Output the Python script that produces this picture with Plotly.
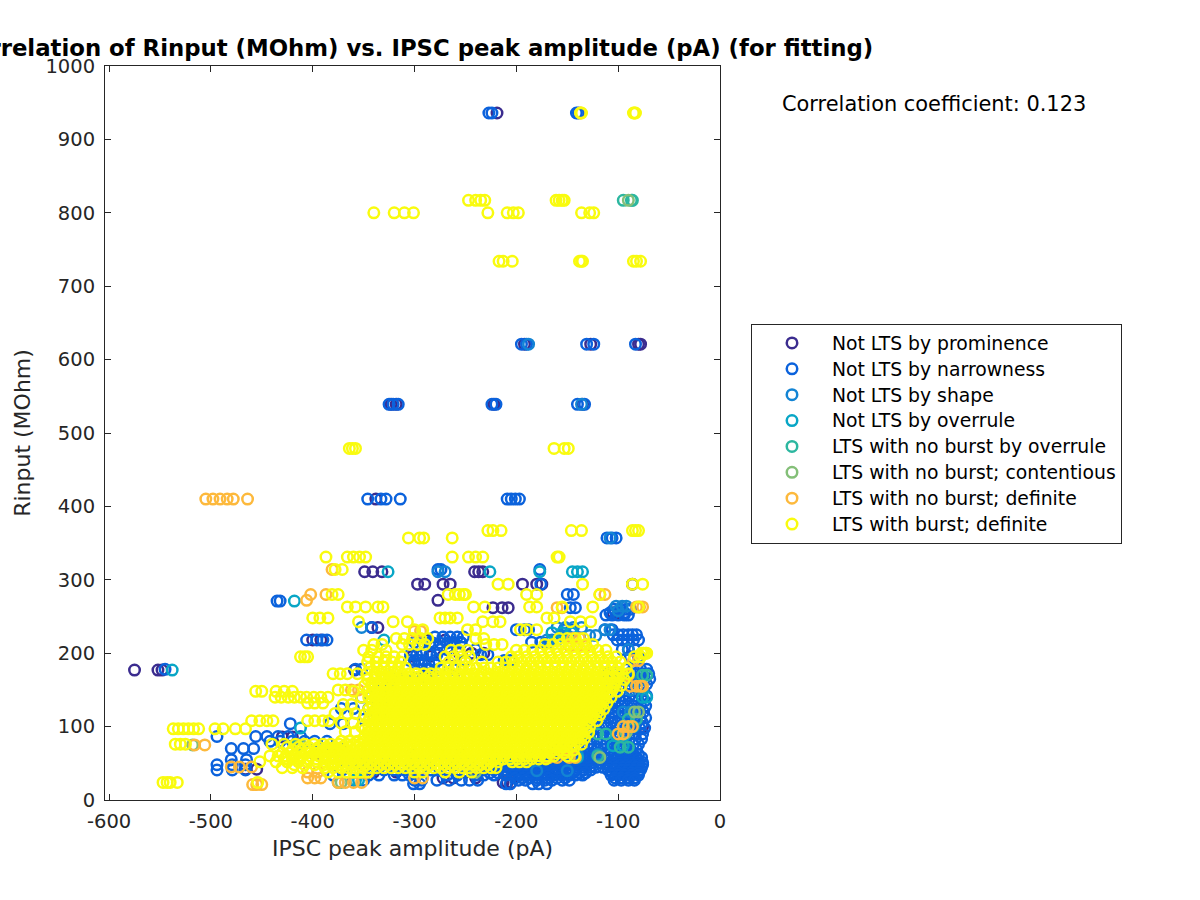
import plotly.graph_objects as go

labels = ["Not LTS by prominence", "Not LTS by narrowness", "Not LTS by shape", "Not LTS by overrule",
          "LTS with no burst by overrule", "LTS with no burst; contentious", "LTS with no burst; definite",
          "LTS with burst; definite"]
colors = ["#3b2c8f", "#0b62dc", "#1384d4", "#08a6c6", "#2cb7a0", "#84bf78", "#fdb93c", "#f9fb0e"]

prominence_rows = {
 936: [-219], 621: [-192, -127, -80, -78], 539: [-323, -318, -222, -135], 410: [-338],
 311: [-349, -341, -332, -241, -237, -233], 294: [-297, -290, -272, -265, -194, -180, -175, -86],
 272: [-277], 262: [-223, -214, -208], 255: [-105, -100], 235: [-336, -342], 218: [-400, -392, -288, -270],
 196: [-302, -284, -272, -262], 177: [-575, -552, -548, -359], 124: [-300, -292], 86: [-430, -420],
 62: [-398], 42: [-466, -455], 38: [-340, -318, -250, -238], 30: [-272, -262, -240],
 24: [-213, -209, -205], 46: [-92, -85], 100: [-76, -84], 170: [-290, -262], 200: [-256, -244, -232],
}
narrowness_rows = {
 936: [-227, -224, -141, -139], 621: [-195, -190, -131, -124, -83], 539: [-325, -321, -316, -224, -220, -140, -133],
 410: [-346, -333, -328, -314, -209, -205, -201, -197], 357: [-111, -106, -102], 314: [-277, -274, -177],
 294: [-176], 280: [-150, -144], 271: [-435, -432], 262: [-147, -142], 255: [-108, -94],
 222: [-280, -272, -265, -258, -252], 214: [-282, -275, -268, -261, -254],
 225: [-105, -100, -95, -90, -86, -82], 218: [-406, -396, -390, -386, -101, -96, -91, -85, -80],
 235: [-342], 205: [-275, -268, -240, -96, -90, -84], 198: [-304, -298, -292, -285, -278, -235, -228],
 195: [-88, -80], 190: [-300, -290, -280, -250, -212, -206], 186: [-300, -293, -286, -280],
 178: [-358, -352, -545, -288, -276, -262, -92, -85, -78, -72],
 172: [-110, -104, -97, -90, -84, -76, -70], 165: [-112, -105, -99, -92, -86, -80, -74, -69],
 158: [-108, -102, -96, -90, -84, -78, -72], 150: [-110, -104, -98, -91, -85, -79, -73],
 142: [-108, -102, -95, -89, -83, -77, -72], 135: [-112, -105, -99, -93, -86, -80, -74],
 128: [-110, -103, -97, -91, -85, -78, -73], 120: [-113, -106, -100, -94, -87, -81, -75],
 112: [-116, -109, -103, -96, -90, -84, -78, -73], 105: [-122, -114, -107, -101, -94, -88, -82, -76],
 98: [-126, -119, -112, -105, -99, -92, -86, -79, -74], 90: [-128, -121, -115, -108, -102, -95, -89, -83, -76],
 83: [-135, -128, -121, -115, -108, -102, -96, -89, -83, -77], 76: [-130, -124, -117, -111, -104, -98, -92, -85, -80],
 69: [-160, -150, -140, -134, -127, -120, -113, -107, -100, -94, -88, -82],
 62: [-300, -275, -262, -250, -172, -165, -158, -152, -145, -138, -131, -124, -117, -110, -104, -97, -91, -85, -80],
 58: [-215, -208, -201, -194, -187, -181, -174, -168, -161, -155, -149, -142, -135, -128, -121, -114, -107, -100, -93, -87, -82, -77],
 55: [-480, -465, -352, -345, -330, -320, -268, -255, -180, -173, -166, -159, -152, -145, -138, -131, -124, -117, -111, -104, -98, -92, -86, -81],
 51: [-222, -216, -209, -203, -196, -190, -183, -177, -170, -164, -157, -151, -144, -138, -131, -125, -118, -112, -105, -99, -92, -86, -80, -76],
 48: [-494, -479, -466, -361, -352, -345, -332, -322, -300, -289, -270, -262, -249, -238, -226, -214, -208, -201, -194, -187, -180, -173, -166, -159, -152, -145, -138, -131, -111, -104, -98, -92, -86, -80, -76],
 44.5: [-228, -221, -215, -208, -201, -195, -188, -181, -175, -168, -161, -155, -148, -141, -135, -128, -122, -115, -108, -102, -95, -89, -82, -77],
 41: [-494, -479, -466, -371, -360, -350, -340, -330, -320, -310, -303, -296, -284, -275, -268, -257, -242, -232, -222, -212, -204, -197, -190, -183, -176, -169, -162, -155, -148, -141, -134, -127, -110, -103, -96, -90, -84, -78],
 37: [-226, -218, -211, -204, -198, -191, -184, -178, -171, -164, -158, -151, -145, -138, -132, -106, -100, -93, -87, -80],
 34: [-380, -345, -335, -320, -312, -305, -268, -258, -240, -232, -222, -210, -204, -197, -190, -183, -176, -169, -162, -155, -148, -142, -135, -107, -100, -94, -87, -80],
 30: [-201, -194, -187, -179, -169, -160, -152, -103, -97, -90, -84],
 27: [-360, -350, -300, -293, -278, -266, -254, -246, -238, -198, -191, -180, -172, -165, -155, -148, -104, -97, -90, -84],
 22: [-301, -295, -210, -206, -184, -178, -170],
 86.5: [-494, -456, -445, -434, -424, -412], 80: [-442, -432, -420, -408, -398, -386], 70: [-480, -468, -458, -380, -372],
 110: [-350, -340, -330], 104: [-422, -383, -370], 124.5: [-372, -360, -345, -334], 140: [-352, -344, -330],
 150: [-335, -325], 165.5: [-322, -316, -300, -292], 168: [-323, -290, -278], 190.5: [-305, -296],
 215: [-300, -292, -285, -262, -255, -185, -176, -168], 232: [-200, -192, -188, -113, -106, -153, -146],
 252: [-112, -106, -100, -94, -90], 260: [-104, -98, -92, -88],
}
shape_rows = {
 621: [-188], 539: [-136], 311: [-277, -270], 357: [-108], 264: [-102, -96, -92], 258: [-100],
 235: [-352, -160, -152, -144, -136], 232: [-113, -108], 224: [-155, -150, -128, -122], 218: [-170, -165, -160], 205: [-90], 165: [-96, -88],
 150: [-88, -76], 120: [-95, -88], 62: [-140, -120], 40: [-180, -150],
}
overrule_rows = {
 311: [-326, -226, -177, -145, -140, -135], 271: [-418], 218: [-330], 177: [-538], 100: [-95, -85],
 140: [-76, -72], 88: [-102, -94], 74: [-105, -95], 27: [-358, -355], 58: [-215, -205, -140], 98: [-412],
 228: [-165, -155, -146],
}
nb_overrule_rows = {
 817: [-95, -87, -86], 170: [-76, -72], 110: [-90, -82], 90: [-120, -112], 60: [-120, -148], 72: [-98, -90], 75: [-415],
}
nb_contentious_rows = {
 817: [-90], 120: [-84, -80], 92: [-92], 58: [-118], 38: [-240], 75: [-518, -412], 24: [-375, -372],
}
nb_definite_rows = {
 936: [-137], 410: [-505, -498, -491, -484, -478, -464], 314: [-381], 280: [-402, -387, -118, -113], 272: [-406],
 263: [-82, -79, -76], 262: [-160, -155], 230: [-300, -294], 220: [-145, -138], 190: [-85, -80], 170: [-90],
 155: [-88, -82, -78, -76], 150: [-362, -355], 125: [-310], 100: [-95, -90, -86], 90: [-100, -95], 75: [-516, -506],
 58: [-148, -142, -172, -168, -160], 45: [-480, -472, -460], 38: [-405, -395, -345], 30: [-405, -398, -392, -300, -292],
 24: [-375, -368, -360, -352], 21: [-459, -455, -450], 65: [-375, -365, -155, -150], 210: [-148, -140, -132],
}
burst_rows = {
 936: [-137, -136, -85, -84, -83], 817: [-247, -240, -235, -231, -161, -158, -155, -153],
 800: [-340, -320, -310, -301, -228, -209, -203, -198, -136, -128, -124],
 734: [-217, -213, -204, -138, -136, -135, -85, -82, -78], 479: [-364, -361, -358, -163, -153, -149],
 367: [-228, -223, -215, -146, -136, -86, -83, -80], 357: [-306, -295, -291, -263],
 331: [-387, -366, -360, -354, -348, -263, -247, -240, -233, -160, -158],
 314: [-378, -371], 294: [-218, -208, -135, -86, -76], 280: [-381, -375, -267, -260, -252, -190, -180, -118, -256, -250],
 263: [-366, -358, -348, -336, -331, -242, -231, -187, -180, -155, -125, -80],
 248: [-400, -393, -385, -275, -270, -265, -258, -170, -163],
 243: [-355, -321, -307, -233, -223, -216, -147, -137, -127],
 232: [-300, -292, -196, -190, -248, -240, -180],
 220: [-318, -310, -302, -294, -287, -240, -232, -158, -150, -142, -134],
 212: [-340, -332, -312, -305, -297, -290, -230, -222, -214, -172, -164, -156, -148, -140, -132, -125],
 204: [-350, -342, -328, -264, -256, -248, -200, -192, -184, -176, -168, -160, -152, -144, -136, -128, -120, -112],
 200: [-77, -75, -73, -72],
 195: [-412, -408, -405, -345, -336, -328, -320, -312, -270, -262, -254, -246, -205, -198, -190, -182, -174, -166, -158, -150, -142, -134, -126, -118, -110, -102, -84, -78],
 188: [-346, -338, -330, -322, -314, -266, -250, -234, -218, -210, -202, -194, -186, -178, -170, -162, -154, -146, -138, -130, -122, -114, -106, -98],
 180: [-344, -337, -330, -323, -316, -309, -274, -267, -260, -253, -246, -239, -232, -225, -218, -211, -204, -197, -190, -183, -176, -169, -162, -155, -148, -141, -134, -127, -120, -113, -106, -100, -92],
 172: [-380, -373, -366, -356, -347, -339, -333, -326, -319, -312, -305, -298, -291, -284, -277, -270, -263, -256, -249, -242, -235, -228, -221, -214, -207, -200, -193, -186, -179, -172, -165, -158, -151, -144, -137, -130, -123, -116, -109, -102, -96, -90],
 164: [-346, -339, -332, -325, -318, -311, -304, -297, -290, -283, -276, -269, -262, -255, -248, -241, -234, -227, -220, -213, -206, -199, -192, -185, -178, -171, -164, -157, -150, -143, -136, -129, -122, -115, -108, -101, -94],
 156: [-349, -342, -335, -328, -321, -314, -307, -300, -293, -286, -279, -272, -265, -258, -251, -244, -237, -230, -223, -216, -209, -202, -195, -188, -181, -174, -167, -160, -153, -146, -139, -132, -125, -118, -111, -104, -97],
 150: [-375, -368],
 148: [-456, -450, -436, -428, -420, -360, -346, -339, -332, -325, -318, -311, -304, -297, -290, -283, -276, -269, -262, -255, -248, -241, -234, -227, -220, -213, -206, -199, -192, -185, -178, -171, -164, -157, -150, -143, -136, -129, -122, -115, -108, -101],
 140: [-437, -431, -424, -418, -412, -406, -399, -392, -385, -352, -345, -338, -331, -324, -317, -310, -303, -296, -289, -282, -275, -268, -261, -254, -247, -240, -233, -226, -219, -212, -205, -198, -191, -184, -177, -170, -163, -156, -149, -142, -135, -128, -121, -114, -107],
 132: [-405, -398, -390, -342, -335, -328, -321, -314, -307, -300, -293, -286, -279, -272, -265, -258, -251, -244, -237, -230, -223, -216, -209, -202, -195, -188, -181, -174, -167, -160, -153, -146, -139, -132, -125, -118, -111],
 130: [-370, -362],
 124: [-345, -338, -331, -324, -317, -310, -303, -296, -289, -282, -275, -268, -261, -254, -247, -240, -233, -226, -219, -212, -205, -198, -191, -184, -177, -170, -163, -156, -149, -142, -135, -128, -121, -114],
 118: [-378, -366, -358],
 116: [-349, -342, -335, -328, -321, -314, -307, -300, -293, -286, -279, -272, -265, -258, -251, -244, -237, -230, -223, -216, -209, -202, -195, -188, -181, -174, -167, -160, -153, -146, -139, -132, -125, -118],
 108: [-460, -452, -445, -439, -405, -398, -390, -384, -345, -338, -331, -324, -317, -310, -303, -296, -289, -282, -275, -268, -261, -254, -247, -240, -233, -226, -219, -212, -205, -198, -191, -184, -177, -170, -163, -156, -149, -142, -135, -128, -121],
 105: [-372, -360],
 100: [-352, -345, -338, -331, -324, -317, -310, -303, -296, -289, -282, -275, -268, -261, -254, -247, -240, -233, -226, -219, -212, -205, -198, -191, -184, -177, -170, -163, -156, -149, -142, -135, -128],
 97: [-537, -532, -527, -522, -517, -512, -496, -488, -476, -466],
 93: [-368, -358],
 92: [-346, -339, -332, -325, -318, -311, -304, -297, -290, -283, -276, -269, -262, -255, -248, -241, -234, -227, -220, -213, -206, -199, -192, -185, -178, -171, -164, -157, -150, -143, -136, -129],
 84: [-350, -343, -336, -329, -322, -315, -308, -301, -294, -287, -280, -273, -266, -259, -252, -245, -238, -231, -224, -217, -210, -203, -196, -189, -182, -175, -168, -161, -154, -147, -140, -133],
 76: [-535, -530, -525, -440, -428, -417, -408, -399, -390, -382, -374, -367, -360, -353, -346, -339, -332, -325, -318, -311, -304, -297, -290, -283, -276, -269, -262, -255, -248, -241, -234, -227, -220, -213, -206, -199, -192, -185, -178, -171, -164, -157, -150, -143, -136],
 68: [-420, -412, -404, -396, -389, -382, -375, -368, -361, -354, -347, -340, -333, -326, -319, -312, -305, -298, -291, -284, -277, -270, -263, -256, -249, -242, -235, -228, -221, -214, -207, -200, -193, -186, -179, -172, -165, -158, -151, -144],
 60: [-442, -434, -426, -418, -410, -402, -394, -387, -380, -373, -366, -359, -352, -345, -338, -331, -324, -317, -310, -303, -296, -289, -282, -275, -268, -261, -254, -247, -240, -233, -226, -219, -212, -205, -198, -191, -184, -177, -170, -163, -150, -143],
 52: [-452, -436, -425, -414, -405, -396, -388, -380, -372, -365, -358, -351, -344, -337, -330, -323, -316, -309, -302, -295, -288, -281, -274, -267, -260, -253, -246, -239, -232, -225, -218, -204, -197, -190],
 44: [-430, -420, -410, -388, -380, -372, -365, -358, -351, -344, -337, -330, -323, -316, -309, -302, -295, -288, -281, -274, -267, -260, -253, -246, -239, -232, -225, -220],
 38: [-385, -375, -367, -360, -353, -346, -300, -292, -270, -256, -244],
 24: [-547, -543, -540, -533, -454],
}
burst_core_rows = {
 168: [-338, -330, -322, -314, -306, -296, -286, -276, -266, -256, -246, -236, -225, -217, -209, -202, -195, -188, -181, -174, -167, -160, -153, -146, -139, -132, -125, -118, -111, -105],
 160: [-342, -335, -327, -320, -313, -306, -299, -292, -285, -278, -271, -264, -257, -250, -243, -236, -229, -222, -215, -208, -201, -194, -187, -180, -173, -166, -159, -152, -145, -138, -131, -124, -117, -110, -103],
 152: [-336, -329, -322, -315, -308, -301, -294, -287, -280, -273, -266, -259, -252, -245, -238, -231, -224, -217, -210, -203, -196, -189, -182, -175, -168, -161, -154, -147, -140, -133, -126, -119, -112, -105],
 144: [-342, -335, -328, -321, -314, -307, -300, -293, -286, -279, -272, -265, -258, -251, -244, -237, -230, -223, -216, -209, -202, -195, -188, -181, -174, -167, -160, -153, -146, -139, -132, -125, -118, -111],
 136: [-338, -331, -324, -317, -310, -303, -296, -289, -282, -275, -268, -261, -254, -247, -240, -233, -226, -219, -212, -205, -198, -191, -184, -177, -170, -163, -156, -149, -142, -135, -128, -121, -114],
 128: [-341, -334, -327, -320, -313, -306, -299, -292, -285, -278, -271, -264, -257, -250, -243, -236, -229, -222, -215, -208, -201, -194, -187, -180, -173, -166, -159, -152, -145, -138, -131, -124, -117],
 120: [-337, -330, -323, -316, -309, -302, -295, -288, -281, -274, -267, -260, -253, -246, -239, -232, -225, -218, -211, -204, -197, -190, -183, -176, -169, -162, -155, -148, -141, -134, -127, -120],
 112: [-344, -336, -329, -322, -315, -308, -301, -294, -287, -280, -273, -266, -259, -252, -245, -238, -231, -224, -217, -210, -203, -196, -189, -182, -175, -168, -161, -154, -147, -140, -133, -126],
 104: [-341, -334, -327, -320, -313, -306, -299, -292, -285, -278, -271, -264, -257, -250, -243, -236, -229, -222, -215, -208, -201, -194, -187, -180, -173, -166, -159, -152, -145, -138, -131],
 96: [-349, -342, -335, -328, -321, -314, -307, -300, -293, -286, -279, -272, -265, -258, -251, -244, -237, -230, -223, -216, -209, -202, -195, -188, -181, -174, -167, -160, -153, -146, -139, -132],
 88: [-345, -338, -331, -324, -317, -310, -303, -296, -289, -282, -275, -268, -261, -254, -247, -240, -233, -226, -219, -212, -205, -198, -191, -184, -177, -170, -163, -156, -149, -142, -135],
 80: [-372, -364, -356, -349, -342, -335, -328, -321, -314, -307, -300, -293, -286, -279, -272, -265, -258, -251, -244, -237, -230, -223, -216, -209, -202, -195, -188, -181, -174, -167, -160, -153, -146, -139],
 72: [-425, -414, -404, -394, -386, -378, -371, -364, -357, -350, -343, -336, -329, -322, -315, -308, -301, -294, -287, -280, -273, -266, -259, -252, -245, -238, -231, -224, -217, -210, -203, -196, -189, -182, -175, -168, -161, -154, -147],
 64: [-430, -422, -414, -406, -398, -391, -384, -377, -370, -363, -356, -349, -342, -335, -328, -321, -314, -307, -300, -293, -286, -279, -272, -265, -258, -251, -244, -237, -230, -223, -216, -209, -202, -195, -188, -181, -174, -167, -160, -153],
 56: [-428, -420, -412, -404, -396, -388, -381, -374, -367, -360, -353, -346, -339, -332, -325, -318, -311, -304, -297, -290, -283, -276, -269, -262, -255, -248, -241, -234, -227, -220, -213, -206, -199, -192, -185, -178, -171],
 48: [-418, -408, -398, -389, -382, -375, -368, -361, -354, -347, -340, -333, -326, -319, -312, -305, -298, -291, -284, -277, -270, -263, -256, -249, -242, -235, -228],
}

all_rows = [[prominence_rows], [narrowness_rows], [shape_rows], [overrule_rows],
            [nb_overrule_rows], [nb_contentious_rows], [nb_definite_rows], [burst_rows, burst_core_rows]]

AXIS = "#262626"
FONT = "DejaVu Sans"

fig = go.Figure()
for label, color, groups in zip(labels, colors, all_rows):
    xs, ys = [], []
    for rows in groups:
        for r, vals in rows.items():
            for v in vals:
                xs.append(v)
                ys.append(r)
    fig.add_trace(go.Scatter(
        x=xs, y=ys, mode="markers", cliponaxis=False,
        name=f'<span style="font-size:18.8px">{label}</span>',
        marker=dict(symbol="circle-open", size=10.5, color=color, line=dict(width=2.5, color=color)),
    ))

axis_common = dict(showgrid=False, zeroline=False, showline=True, linecolor=AXIS, linewidth=1, mirror="ticks",
                   ticks="inside", ticklen=6, tickcolor=AXIS, tickwidth=1,
                   tickfont=dict(family=FONT, size=19.5, color=AXIS))
fig.update_xaxes(range=[-604, 0], tickmode="array", tickvals=[-600, -500, -400, -300, -200, -100, 0],
                 ticktext=["-600", "-500", "-400", "-300", "-200", "-100", "0"], ticklabelstandoff=4,
                 title=dict(text="IPSC peak amplitude (pA)", font=dict(family=FONT, size=22, color=AXIS), standoff=8),
                 **axis_common)
fig.update_yaxes(range=[0, 1000], tickmode="array", tickvals=list(range(0, 1001, 100)), ticklabelstandoff=5,
                 title=dict(text="Rinput (MOhm)", font=dict(family=FONT, size=22, color=AXIS), standoff=8),
                 **axis_common)
fig.update_layout(
    width=1200, height=900, autosize=False,
    margin=dict(l=105, r=480, t=66, b=100, pad=0),
    paper_bgcolor="white", plot_bgcolor="white",
    font=dict(family=FONT, color="black"),
    legend=dict(x=1.0504, xanchor="left", y=0.6485, yanchor="top", bordercolor="#262626", borderwidth=1,
                bgcolor="white", font=dict(family=FONT, size=17.6, color="black"), itemwidth=70,
                traceorder="normal", itemclick=False, itemdoubleclick=False),
    annotations=[
        dict(text="<b>Correlation of Rinput (MOhm) vs. IPSC peak amplitude (pA) (for fitting)</b>",
             xref="paper", yref="paper", x=(415 - 105) / 615, y=1.0, yanchor="bottom", yshift=3, xanchor="center",
             showarrow=False, font=dict(family=FONT, size=22.8, color="black")),
        dict(text="Correlation coefficient: 0.123", xref="paper", yref="paper",
             x=(934 - 105) / 615, y=(800 - 104) / 734, xanchor="center", yanchor="middle",
             showarrow=False, font=dict(family=FONT, size=20.9, color="black")),
    ],
)
fig.write_html("out.html", config=dict(displayModeBar=False), post_script="document.body.style.margin='0';")
